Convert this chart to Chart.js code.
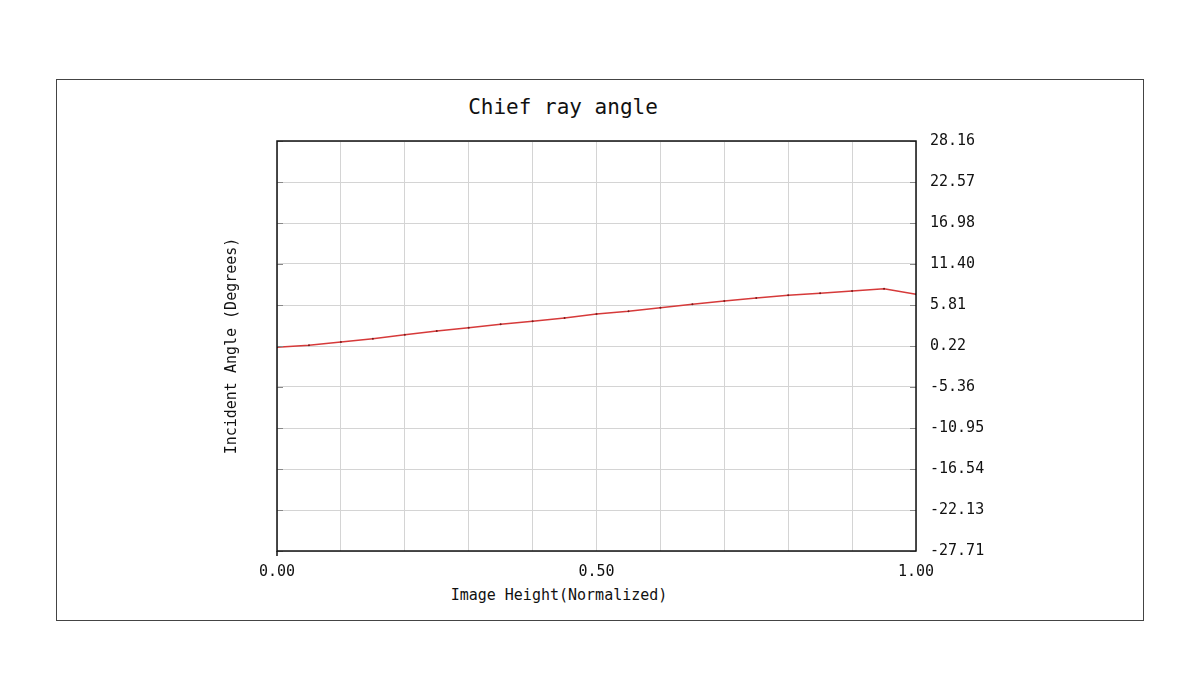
<!DOCTYPE html>
<html>
<head>
<meta charset="utf-8">
<script src="https://cdn.jsdelivr.net/npm/chart.js@4"></script>
<style>
    body { margin: 0; background: #fff; }
    #wrap { position: relative; width: 1200px; height: 700px; }
    #frame { position: absolute; left: 56px; top: 79px; width: 1086px; height: 540px; border: 1px solid #444; }
    #title { position: absolute; left: 363px; width: 400px; top: 95px; text-align: center;
             font: 21px "DejaVu Sans Mono", monospace; color: #111; }
    #xTitle { position: absolute; left: 359px; width: 400px; top: 586px; text-align: center;
              font: 15px "DejaVu Sans Mono", monospace; color: #111; }
    canvas { position: absolute; left: 0; top: 0; }
</style>
</head>
<body>
<div id="wrap">
    <div id="frame"></div>
    <div id="title">Chief ray angle</div>
    <div id="xTitle">Image Height(Normalized)</div>
    <canvas id="myChart" width="1200" height="700"></canvas>
</div>
<script>
// Image height (normalized) and chief ray angle in degrees
const imageHeight = [0, 0.05, 0.10, 0.15, 0.20, 0.25, 0.30, 0.35, 0.40, 0.45, 0.50,
    0.55, 0.60, 0.65, 0.70, 0.75, 0.80, 0.85, 0.90, 0.95, 1.00];
const angle = [0.05, 0.32, 0.77, 1.22, 1.76, 2.27, 2.72, 3.18, 3.59, 4.04, 4.58,
    4.95, 5.44, 5.91, 6.36, 6.76, 7.13, 7.41, 7.72, 8.03, 7.27];

const yTicks = [28.16, 22.57, 16.98, 11.40, 5.81, 0.22, -5.36, -10.95, -16.54, -22.13, -27.71];
const xTicks = [0, 0.1, 0.2, 0.3, 0.4, 0.5, 0.6, 0.7, 0.8, 0.9, 1.0];
const xLabels = ['0.00', '0.50', '1.00'];

const monoFont = { family: '"DejaVu Sans Mono", monospace', size: 15 };

// black box round the plot plus the small inner tick marks
const framePlugin = {
    id: 'frame',
    afterDraw(chart) {
        const { ctx, chartArea: a } = chart;
        const y = chart.scales.y;
        ctx.save();
        ctx.strokeStyle = '#888';
        ctx.lineWidth = 1;
        yTicks.forEach(v => {
            const py = Math.round(y.getPixelForValue(v)) + 0.5;
            ctx.beginPath();
            ctx.moveTo(a.left, py); ctx.lineTo(a.left + 6, py);
            ctx.moveTo(a.right - 6, py); ctx.lineTo(a.right, py);
            ctx.stroke();
        });
        ctx.strokeStyle = '#111';
        ctx.lineWidth = 1.5;
        ctx.strokeRect(a.left, a.top, a.right - a.left, a.bottom - a.top);
        ctx.beginPath();
        ctx.moveTo(a.left, a.bottom); ctx.lineTo(a.left, a.bottom + 5);
        ctx.stroke();
        ctx.restore();
    }
};

const ctx = document.getElementById('myChart').getContext('2d');
const myChart = new Chart(ctx, {
    type: 'line',
    data: {
        datasets: [{
            data: imageHeight.map((x, i) => ({ x: x, y: angle[i] })),
            borderColor: '#d63a3a',
            borderWidth: 1.5,
            pointRadius: 1,
            pointBackgroundColor: '#7a1a1a',
            pointBorderWidth: 0,
            tension: 0,
            yAxisID: 'y'
        }]
    },
    options: {
        responsive: false,
        animation: false,
        layout: { padding: { left: 220, right: 0, top: 141, bottom: 89 } },
        plugins: { legend: { display: false }, tooltip: { enabled: false } },
        scales: {
            x: {
                type: 'linear',
                min: 0,
                max: 1,
                afterBuildTicks: s => { s.ticks = xTicks.map(v => ({ value: v })); },
                afterFit: s => { s.height = 60; },
                ticks: {
                    autoSkip: false,
                    maxRotation: 0,
                    padding: 12,
                    color: '#111',
                    font: monoFont,
                    callback: v => {
                        const i = [0, 0.5, 1].findIndex(t => Math.abs(t - v) < 1e-6);
                        return i >= 0 ? xLabels[i] : '';
                    }
                },
                grid: { color: '#d4d4d4', drawTicks: false },
                border: { display: false }
            },
            y: {
                position: 'right',
                min: -27.71,
                max: 28.16,
                afterBuildTicks: s => { s.ticks = yTicks.map(v => ({ value: v })); },
                afterFit: s => { s.width = 284; },
                ticks: {
                    padding: 14,
                    color: '#111',
                    font: monoFont,
                    callback: v => v.toFixed(2)
                },
                grid: { color: '#d4d4d4', drawTicks: false },
                border: { display: false }
            },
            yLeft: {
                position: 'left',
                min: -27.71,
                max: 28.16,
                afterFit: s => { s.width = 57; },
                ticks: { display: false },
                grid: { display: false },
                border: { display: false },
                title: {
                    display: true,
                    text: 'Incident Angle (Degrees)',
                    color: '#111',
                    font: monoFont,
                    padding: { top: 3, bottom: 0 }
                }
            }
        }
    },
    plugins: [framePlugin]
});
</script>
</body>
</html>
